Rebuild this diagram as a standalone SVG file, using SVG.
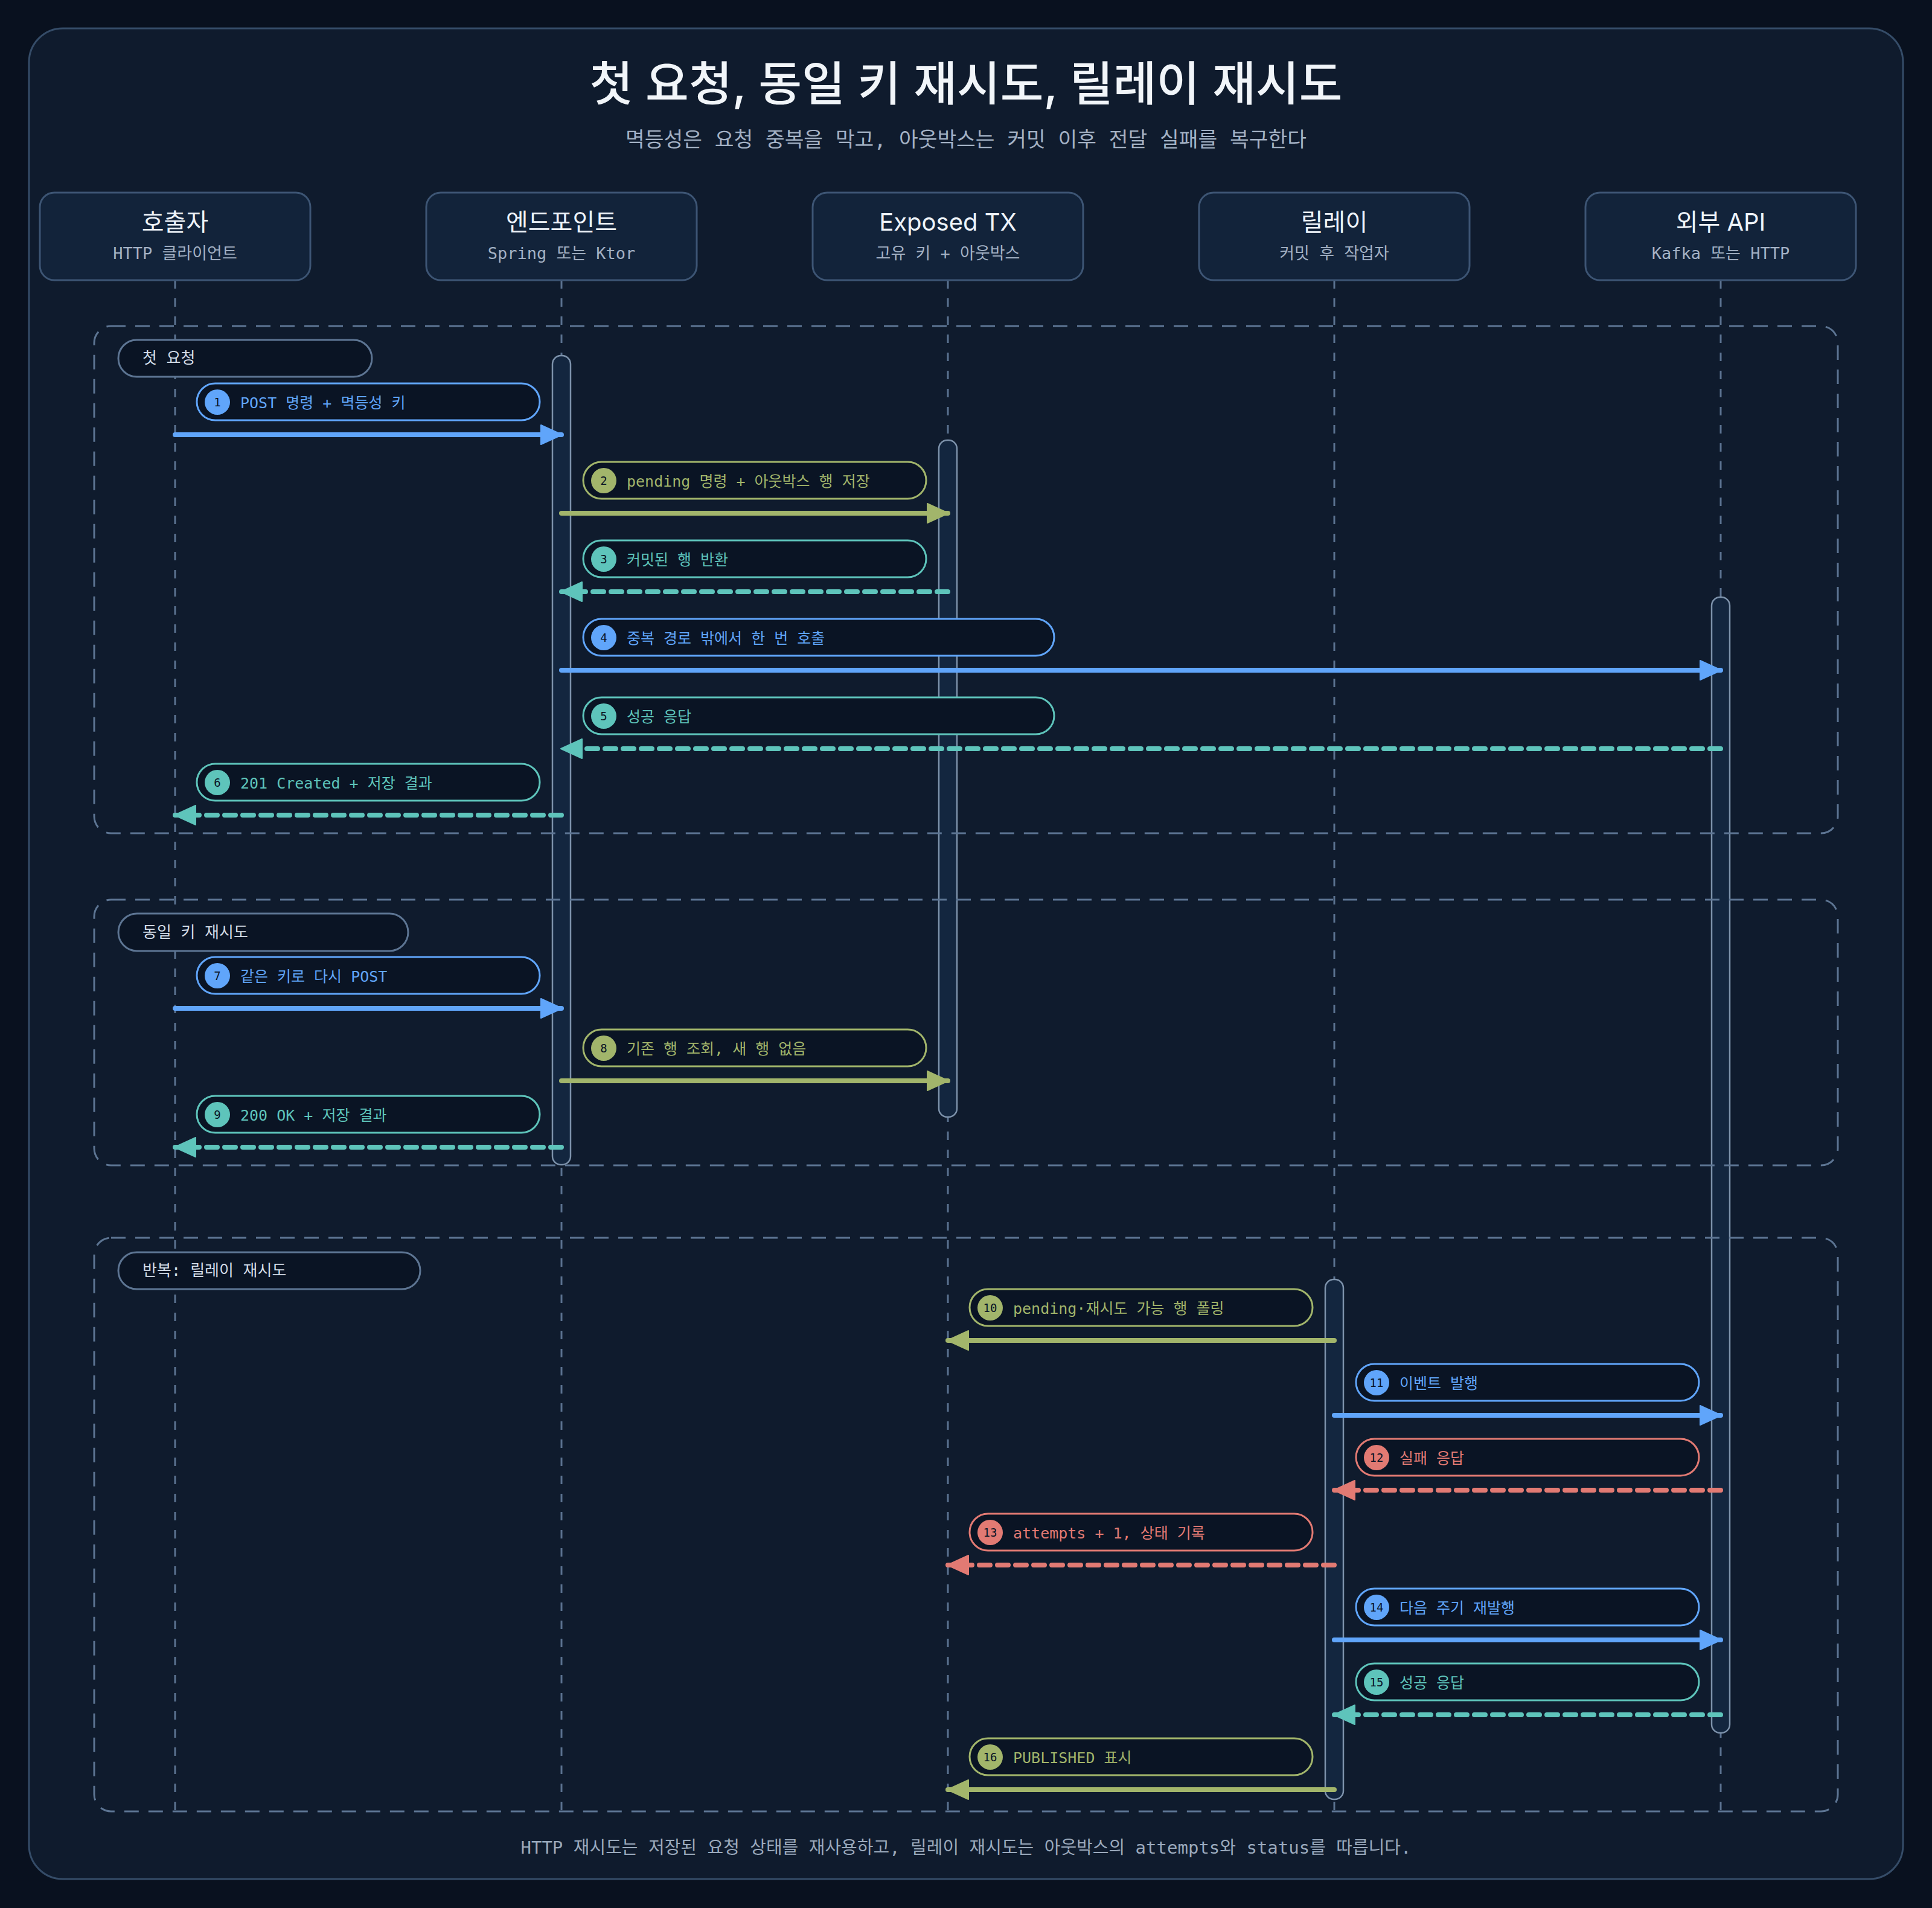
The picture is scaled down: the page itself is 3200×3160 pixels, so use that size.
<svg xmlns="http://www.w3.org/2000/svg" width="3200" height="3160" viewBox="0 0 3200 3160">
<defs>
<style>
.bg{fill:#09111f}
.frame{fill:#0f1b2d;stroke:#354c68;stroke-width:3}
.title{font-family:"Inter","Noto Sans CJK KR",sans-serif;font-size:78px;font-weight:500;fill:#f1f5f9;text-anchor:middle}
.sub{font-family:"DejaVu Sans Mono","Noto Sans CJK KR",monospace;font-size:34.5px;fill:#a3b1c4;text-anchor:middle}
.foot{font-family:"DejaVu Sans Mono","Noto Sans CJK KR",monospace;font-size:29px;fill:#9aa9bc;text-anchor:middle}
.pbox{fill:#12233a;stroke:#3d5574;stroke-width:3}
.ptitle{font-family:"Inter","Noto Sans CJK KR",sans-serif;font-size:40px;fill:#eef3f9;text-anchor:middle}
.psub{font-family:"DejaVu Sans Mono","Noto Sans CJK KR",monospace;font-size:27px;fill:#a3b1c4;text-anchor:middle}
.life{stroke:#5b7290;stroke-width:3;stroke-dasharray:14 16;fill:none}
.bar{fill:#13263f;stroke:#7d92ab;stroke-width:2.5}
.grp{fill:none;stroke:#5d7593;stroke-width:3;stroke-dasharray:24 16}
.glabel{fill:#0a1424;stroke:#5d7593;stroke-width:3}
.gtext{font-family:"DejaVu Sans Mono","Noto Sans CJK KR",monospace;font-size:26px;fill:#d3dce7}
.pill{fill:#0a1424;stroke-width:3}
.mtext{font-family:"DejaVu Sans Mono","Noto Sans CJK KR",monospace;font-size:25px}
.num{font-family:"DejaVu Sans Mono",monospace;font-size:19px;fill:#0b1526;text-anchor:middle}
.blue{stroke:#60a5fa}
.green{stroke:#a2b56b}
.teal{stroke:#5ec4bb}
.red{stroke:#e27a73}
.fblue{fill:#60a5fa}
.fgreen{fill:#a2b56b}
.fteal{fill:#5ec4bb}
.fred{fill:#e27a73}
.msg{fill:none;stroke-width:8;stroke-linecap:round}
.ret{stroke-dasharray:18 12}
</style>
<marker id="ah-blue" markerUnits="userSpaceOnUse" markerWidth="40" markerHeight="36" viewBox="0 0 40 36" refX="36" refY="18" orient="auto"><path d="M2,2 L37,18 L2,34 Z" fill="#60a5fa" stroke="#60a5fa" stroke-width="2" stroke-linejoin="round"/></marker>
<marker id="ah-green" markerUnits="userSpaceOnUse" markerWidth="40" markerHeight="36" viewBox="0 0 40 36" refX="36" refY="18" orient="auto"><path d="M2,2 L37,18 L2,34 Z" fill="#a2b56b" stroke="#a2b56b" stroke-width="2" stroke-linejoin="round"/></marker>
<marker id="ah-teal" markerUnits="userSpaceOnUse" markerWidth="40" markerHeight="36" viewBox="0 0 40 36" refX="36" refY="18" orient="auto"><path d="M2,2 L37,18 L2,34 Z" fill="#5ec4bb" stroke="#5ec4bb" stroke-width="2" stroke-linejoin="round"/></marker>
<marker id="ah-red" markerUnits="userSpaceOnUse" markerWidth="40" markerHeight="36" viewBox="0 0 40 36" refX="36" refY="18" orient="auto"><path d="M2,2 L37,18 L2,34 Z" fill="#e27a73" stroke="#e27a73" stroke-width="2" stroke-linejoin="round"/></marker>
</defs>

<rect class="bg" x="0" y="0" width="3200" height="3160"/>
<rect class="frame" x="48" y="47" width="3104" height="3065" rx="56"/>

<g id="header">
<text class="title" x="1600" y="167">첫 요청, 동일 키 재시도, 릴레이 재시도</text>
<text class="sub" x="1600" y="243">멱등성은 요청 중복을 막고, 아웃박스는 커밋 이후 전달 실패를 복구한다</text>
</g>

<g id="lifelines">
<line class="life" x1="290" y1="464" x2="290" y2="3000"/>
<line class="life" x1="930" y1="464" x2="930" y2="3000"/>
<line class="life" x1="1570" y1="464" x2="1570" y2="3000"/>
<line class="life" x1="2210" y1="464" x2="2210" y2="3000"/>
<line class="life" x1="2850" y1="464" x2="2850" y2="3000"/>
</g>

<g id="participant-caller">
<rect class="pbox" x="66" y="319" width="448" height="145" rx="24"/>
<text class="ptitle" x="290" y="382">호출자</text>
<text class="psub" x="290" y="429">HTTP 클라이언트</text>
</g>
<g id="participant-endpoint">
<rect class="pbox" x="706" y="319" width="448" height="145" rx="24"/>
<text class="ptitle" x="930" y="382">엔드포인트</text>
<text class="psub" x="930" y="429">Spring 또는 Ktor</text>
</g>
<g id="participant-exposed">
<rect class="pbox" x="1346" y="319" width="448" height="145" rx="24"/>
<text class="ptitle" x="1570" y="382">Exposed TX</text>
<text class="psub" x="1570" y="429">고유 키 + 아웃박스</text>
</g>
<g id="participant-relay">
<rect class="pbox" x="1986" y="319" width="448" height="145" rx="24"/>
<text class="ptitle" x="2210" y="382">릴레이</text>
<text class="psub" x="2210" y="429">커밋 후 작업자</text>
</g>
<g id="participant-api">
<rect class="pbox" x="2626" y="319" width="448" height="145" rx="24"/>
<text class="ptitle" x="2850" y="382">외부 API</text>
<text class="psub" x="2850" y="429">Kafka 또는 HTTP</text>
</g>

<g id="activations">
<rect class="bar" x="915" y="589" width="30" height="1340" rx="14"/>
<rect class="bar" x="1555" y="729" width="30" height="1121" rx="14"/>
<rect class="bar" x="2835" y="989" width="30" height="1881" rx="14"/>
<rect class="bar" x="2195" y="2119" width="30" height="861" rx="14"/>
</g>

<g id="group-first">
<rect class="grp" x="156" y="540" width="2888" height="840" rx="28"/>
<rect class="glabel" x="196" y="563" width="420" height="61" rx="30.5"/>
<text class="gtext" x="236" y="602">첫 요청</text>
</g>
<g id="group-same-key">
<rect class="grp" x="156" y="1490" width="2888" height="440" rx="28"/>
<rect class="glabel" x="196" y="1513" width="480" height="62" rx="31"/>
<text class="gtext" x="236" y="1553">동일 키 재시도</text>
</g>
<g id="group-relay">
<rect class="grp" x="156" y="2050" width="2888" height="950" rx="28"/>
<rect class="glabel" x="196" y="2074" width="500" height="61" rx="30.5"/>
<text class="gtext" x="236" y="2113">반복: 릴레이 재시도</text>
</g>

<g id="connectors">
<line class="msg blue" x1="290" y1="720" x2="930" y2="720" marker-end="url(#ah-blue)"/>
<line class="msg green" x1="930" y1="850" x2="1570" y2="850" marker-end="url(#ah-green)"/>
<line class="msg teal ret" x1="1570" y1="980" x2="930" y2="980" marker-end="url(#ah-teal)"/>
<line class="msg blue" x1="930" y1="1110" x2="2850" y2="1110" marker-end="url(#ah-blue)"/>
<line class="msg teal ret" x1="2850" y1="1240" x2="930" y2="1240" marker-end="url(#ah-teal)"/>
<line class="msg teal ret" x1="930" y1="1350" x2="290" y2="1350" marker-end="url(#ah-teal)"/>
<line class="msg blue" x1="290" y1="1670" x2="930" y2="1670" marker-end="url(#ah-blue)"/>
<line class="msg green" x1="930" y1="1790" x2="1570" y2="1790" marker-end="url(#ah-green)"/>
<line class="msg teal ret" x1="930" y1="1900" x2="290" y2="1900" marker-end="url(#ah-teal)"/>
<line class="msg green" x1="2210" y1="2220" x2="1570" y2="2220" marker-end="url(#ah-green)"/>
<line class="msg blue" x1="2210" y1="2344" x2="2850" y2="2344" marker-end="url(#ah-blue)"/>
<line class="msg red ret" x1="2850" y1="2468" x2="2210" y2="2468" marker-end="url(#ah-red)"/>
<line class="msg red ret" x1="2210" y1="2592" x2="1570" y2="2592" marker-end="url(#ah-red)"/>
<line class="msg blue" x1="2210" y1="2716" x2="2850" y2="2716" marker-end="url(#ah-blue)"/>
<line class="msg teal ret" x1="2850" y1="2840" x2="2210" y2="2840" marker-end="url(#ah-teal)"/>
<line class="msg green" x1="2210" y1="2964" x2="1570" y2="2964" marker-end="url(#ah-green)"/>
</g>

<g id="label-1"><rect class="pill blue" x="326" y="635" width="568" height="61" rx="30.5"/><circle class="fblue" cx="360" cy="666" r="21"/><text class="num" x="360" y="673">1</text><text class="mtext fblue" x="398" y="676">POST 명령 + 멱등성 키</text></g>
<g id="label-2"><rect class="pill green" x="966" y="765" width="568" height="61" rx="30.5"/><circle class="fgreen" cx="1000" cy="796" r="21"/><text class="num" x="1000" y="803">2</text><text class="mtext fgreen" x="1038" y="806">pending 명령 + 아웃박스 행 저장</text></g>
<g id="label-3"><rect class="pill teal" x="966" y="895" width="568" height="61" rx="30.5"/><circle class="fteal" cx="1000" cy="926" r="21"/><text class="num" x="1000" y="933">3</text><text class="mtext fteal" x="1038" y="936">커밋된 행 반환</text></g>
<g id="label-4"><rect class="pill blue" x="966" y="1025" width="780" height="61" rx="30.5"/><circle class="fblue" cx="1000" cy="1056" r="21"/><text class="num" x="1000" y="1063">4</text><text class="mtext fblue" x="1038" y="1066">중복 경로 밖에서 한 번 호출</text></g>
<g id="label-5"><rect class="pill teal" x="966" y="1155" width="780" height="61" rx="30.5"/><circle class="fteal" cx="1000" cy="1186" r="21"/><text class="num" x="1000" y="1193">5</text><text class="mtext fteal" x="1038" y="1196">성공 응답</text></g>
<g id="label-6"><rect class="pill teal" x="326" y="1265" width="568" height="61" rx="30.5"/><circle class="fteal" cx="360" cy="1296" r="21"/><text class="num" x="360" y="1303">6</text><text class="mtext fteal" x="398" y="1306">201 Created + 저장 결과</text></g>
<g id="label-7"><rect class="pill blue" x="326" y="1585" width="568" height="61" rx="30.5"/><circle class="fblue" cx="360" cy="1616" r="21"/><text class="num" x="360" y="1623">7</text><text class="mtext fblue" x="398" y="1626">같은 키로 다시 POST</text></g>
<g id="label-8"><rect class="pill green" x="966" y="1705" width="568" height="61" rx="30.5"/><circle class="fgreen" cx="1000" cy="1736" r="21"/><text class="num" x="1000" y="1743">8</text><text class="mtext fgreen" x="1038" y="1746">기존 행 조회, 새 행 없음</text></g>
<g id="label-9"><rect class="pill teal" x="326" y="1815" width="568" height="61" rx="30.5"/><circle class="fteal" cx="360" cy="1846" r="21"/><text class="num" x="360" y="1853">9</text><text class="mtext fteal" x="398" y="1856">200 OK + 저장 결과</text></g>
<g id="label-10"><rect class="pill green" x="1606" y="2135" width="568" height="61" rx="30.5"/><circle class="fgreen" cx="1640" cy="2166" r="21"/><text class="num" x="1640" y="2173">10</text><text class="mtext fgreen" x="1678" y="2176">pending·재시도 가능 행 폴링</text></g>
<g id="label-11"><rect class="pill blue" x="2246" y="2259" width="568" height="61" rx="30.5"/><circle class="fblue" cx="2280" cy="2290" r="21"/><text class="num" x="2280" y="2297">11</text><text class="mtext fblue" x="2318" y="2300">이벤트 발행</text></g>
<g id="label-12"><rect class="pill red" x="2246" y="2383" width="568" height="61" rx="30.5"/><circle class="fred" cx="2280" cy="2414" r="21"/><text class="num" x="2280" y="2421">12</text><text class="mtext fred" x="2318" y="2424">실패 응답</text></g>
<g id="label-13"><rect class="pill red" x="1606" y="2507" width="568" height="61" rx="30.5"/><circle class="fred" cx="1640" cy="2538" r="21"/><text class="num" x="1640" y="2545">13</text><text class="mtext fred" x="1678" y="2548">attempts + 1, 상태 기록</text></g>
<g id="label-14"><rect class="pill blue" x="2246" y="2631" width="568" height="61" rx="30.5"/><circle class="fblue" cx="2280" cy="2662" r="21"/><text class="num" x="2280" y="2669">14</text><text class="mtext fblue" x="2318" y="2672">다음 주기 재발행</text></g>
<g id="label-15"><rect class="pill teal" x="2246" y="2755" width="568" height="61" rx="30.5"/><circle class="fteal" cx="2280" cy="2786" r="21"/><text class="num" x="2280" y="2793">15</text><text class="mtext fteal" x="2318" y="2796">성공 응답</text></g>
<g id="label-16"><rect class="pill green" x="1606" y="2879" width="568" height="61" rx="30.5"/><circle class="fgreen" cx="1640" cy="2910" r="21"/><text class="num" x="1640" y="2917">16</text><text class="mtext fgreen" x="1678" y="2920">PUBLISHED 표시</text></g>

<g id="footer">
<text class="foot" x="1600" y="3070">HTTP 재시도는 저장된 요청 상태를 재사용하고, 릴레이 재시도는 아웃박스의 attempts와 status를 따릅니다.</text>
</g>
</svg>
